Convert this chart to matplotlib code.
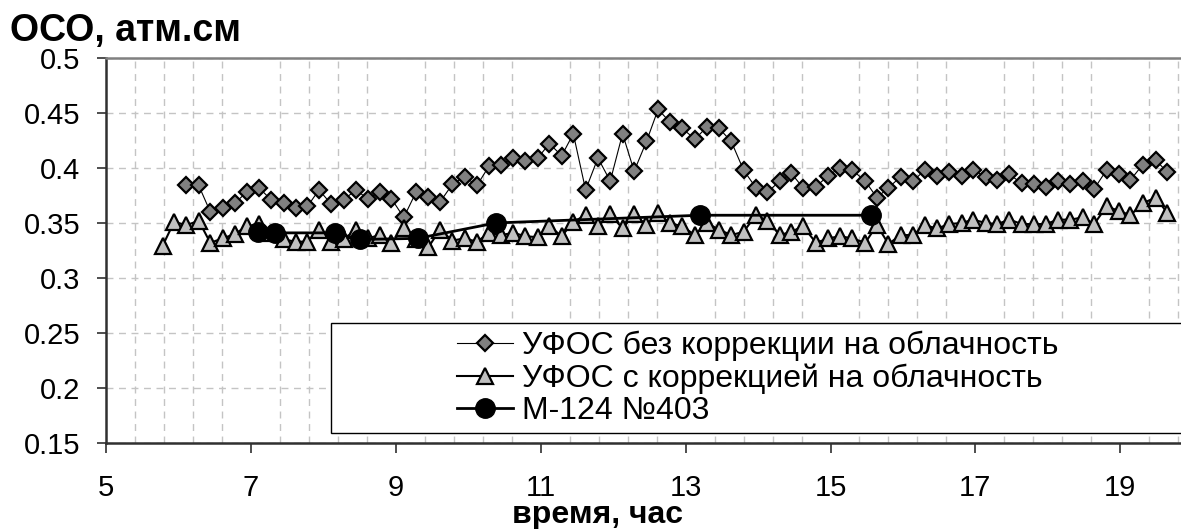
import matplotlib
matplotlib.use("Agg")
import matplotlib.pyplot as plt
from matplotlib.ticker import FixedLocator, FuncFormatter
from matplotlib.patches import Rectangle
import numpy as np

plt.rcParams['font.family'] = ['Liberation Sans', 'DejaVu Sans']

# --- data ---
t_uncorr = [6.11, 6.28, 6.44, 6.61, 6.78, 6.94, 7.11, 7.28, 7.45, 7.62, 7.78, 7.94,
            8.11, 8.28, 8.45, 8.61, 8.78, 8.94, 9.11, 9.28, 9.45, 9.61, 9.78, 9.95,
            10.12, 10.29, 10.45, 10.62, 10.79, 10.96, 11.12, 11.29, 11.45, 11.62, 11.79, 11.96,
            12.13, 12.29, 12.46, 12.62, 12.78, 12.95, 13.13, 13.29, 13.46, 13.63, 13.80, 13.97,
            14.13, 14.30, 14.46, 14.62, 14.80, 14.97, 15.13, 15.30, 15.48, 15.64, 15.80, 15.97,
            16.14, 16.30, 16.47, 16.64, 16.81, 16.97, 17.14, 17.30, 17.47, 17.64, 17.81, 17.97,
            18.14, 18.31, 18.48, 18.64, 18.81, 18.98, 19.14, 19.31, 19.49, 19.65]
oso_uncorr = [0.384, 0.384, 0.360, 0.364, 0.368, 0.378, 0.382, 0.371, 0.368, 0.364, 0.365, 0.380,
              0.367, 0.371, 0.380, 0.372, 0.378, 0.372, 0.355, 0.378, 0.374, 0.369, 0.385, 0.392,
              0.384, 0.402, 0.403, 0.409, 0.406, 0.409, 0.422, 0.411, 0.431, 0.380, 0.409, 0.388,
              0.431, 0.397, 0.424, 0.453, 0.442, 0.436, 0.426, 0.437, 0.436, 0.424, 0.398, 0.382,
              0.378, 0.388, 0.395, 0.382, 0.383, 0.393, 0.400, 0.398, 0.388, 0.373, 0.382, 0.392,
              0.388, 0.398, 0.393, 0.396, 0.393, 0.398, 0.392, 0.389, 0.394, 0.386, 0.385, 0.383,
              0.388, 0.385, 0.388, 0.381, 0.398, 0.394, 0.389, 0.403, 0.407, 0.396]

t_corr = [5.78, 5.94] + t_uncorr
oso_corr = [0.329, 0.351, 0.348, 0.352, 0.332, 0.336, 0.340, 0.347, 0.349, 0.341, 0.335, 0.333,
            0.333, 0.344, 0.333, 0.335, 0.344, 0.336, 0.339, 0.332, 0.345, 0.335, 0.328, 0.344,
            0.334, 0.336, 0.333, 0.341, 0.339, 0.341, 0.338, 0.337, 0.347, 0.338, 0.351, 0.357,
            0.347, 0.358, 0.345, 0.358, 0.348, 0.359, 0.350, 0.347, 0.339, 0.350, 0.344, 0.339,
            0.342, 0.357, 0.352, 0.339, 0.342, 0.347, 0.332, 0.336, 0.338, 0.336, 0.332, 0.348,
            0.331, 0.339, 0.339, 0.348, 0.345, 0.349, 0.350, 0.353, 0.350, 0.349, 0.353, 0.349,
            0.349, 0.349, 0.353, 0.353, 0.355, 0.349, 0.365, 0.361, 0.357, 0.368, 0.373, 0.359]

t_m124 = [7.10, 7.33, 8.16, 8.50, 9.30, 10.38, 13.20, 15.56]
oso_m124 = [0.342, 0.341, 0.341, 0.335, 0.336, 0.350, 0.357, 0.357]

labels = ['УФОС без коррекции на облачность',
          'УФОС с коррекцией на облачность',
          'М-124 №403']
y_title = 'ОСО, атм.см'
x_title = 'время, час'
x_major = [5, 7, 9, 11, 13, 15, 17, 19]
y_major = [0.15, 0.2, 0.25, 0.3, 0.35, 0.4, 0.45, 0.5]

# --- figure ---
W, H = 1181, 529
fig = plt.figure(figsize=(W / 100, H / 100), dpi=100)
ax = fig.add_axes([106 / W, (H - 443.3) / H, 1086.75 / W, (443.3 - 57.7) / H])
ax.set_xlim(5, 20)
ax.set_ylim(0.15, 0.5)

l1, = ax.plot(t_uncorr, oso_uncorr, color='black', lw=0.8, marker='D', ms=8.5,
              mfc='#808080', mec='black', mew=1.6, zorder=4)
l2, = ax.plot(t_corr, oso_corr, color='black', lw=1.5, marker='^', ms=11.5,
              mfc='#c0c0c0', mec='black', mew=1.6, zorder=5)
l3, = ax.plot(t_m124, oso_m124, color='black', lw=2.0, marker='o', ms=14,
              mfc='black', mec='black', mew=1, zorder=6)

ax.xaxis.set_major_locator(FixedLocator(x_major))
ax.xaxis.set_minor_locator(FixedLocator(np.arange(5.4, 20.0, 0.4)))
ax.yaxis.set_major_locator(FixedLocator(y_major))
ax.yaxis.set_major_formatter(FuncFormatter(lambda v, p: f'{v:g}'))

ax.set_axisbelow(True)
ax.grid(True, which='major', axis='y', color='#c4c4c4', lw=1.0, ls=(0, (5, 4)))
ax.grid(True, which='minor', axis='x', color='#c4c4c4', lw=1.0, ls=(0, (5, 4)))

ax.tick_params(axis='x', which='major', direction='out', length=7, width=1.3,
               color='#404040', pad=15, labelsize=21)
ax.tick_params(axis='x', which='minor', length=0)
ax.tick_params(axis='y', which='major', direction='out', length=6.5, width=1.3,
               color='#404040', pad=12, labelsize=21)

for side in ['left', 'bottom']:
    ax.spines[side].set_color('#303030')
    ax.spines[side].set_linewidth(1.8)
ax.spines['top'].set_color('#808080')
ax.spines['top'].set_linewidth(1.8)
ax.spines['right'].set_visible(False)

# legend box
rect = Rectangle((0.207, 0.0275), 0.80, 0.2837, transform=ax.transAxes,
                 facecolor='white', edgecolor='black', lw=1.0, zorder=7, clip_on=False)
ax.add_patch(rect)
leg = ax.legend([l1, l2, l3], labels, loc='upper left', bbox_to_anchor=(0.3227, 0.292),
                frameon=False, fontsize=23, handlelength=1.75, handletextpad=0.3,
                labelspacing=0.07, borderpad=0, borderaxespad=0)
leg.set_zorder(8)

fig.text(10 / W, 1 - 41 / H, y_title, fontsize=27, fontweight='bold', va='baseline', ha='left')
fig.text(597 / W, 1 - 523 / H, x_title, fontsize=23, fontweight='bold', va='baseline', ha='center')

fig.savefig('out.png', dpi=100, facecolor='white')
